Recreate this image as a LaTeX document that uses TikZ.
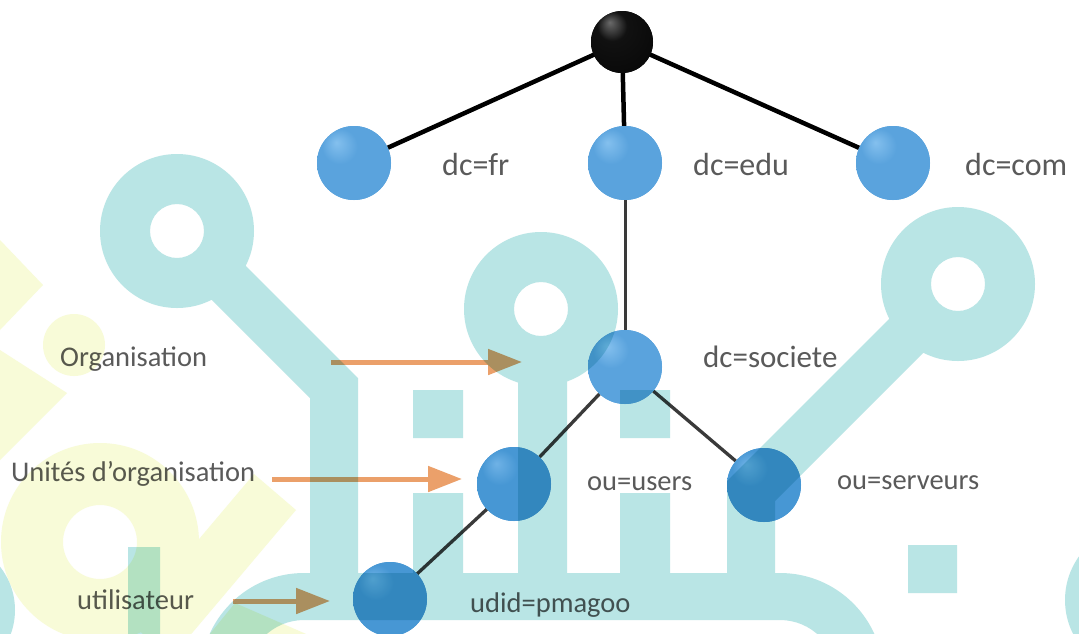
\documentclass[tikz,border=0pt]{standalone}
\usepackage{fontspec}
\setmainfont{Carlito}
\usetikzlibrary{arrows.meta}
\definecolor{teal1}{HTML}{B9E5E5}
\definecolor{yel1}{HTML}{F8FBD8}
\definecolor{txtgray}{HTML}{5A5A5A}
\definecolor{edgegray}{HTML}{3A3A3A}
\definecolor{arrorange}{HTML}{EBA06A}
\definecolor{ballA}{HTML}{84C0EE}
\definecolor{ballB}{HTML}{5AA3DD}
\definecolor{ballC}{HTML}{4A92CF}
\definecolor{ballD}{HTML}{2F72AE}
\definecolor{dballA}{HTML}{6FB2E6}
\definecolor{dballB}{HTML}{4797D4}
\definecolor{dballC}{HTML}{3A85C4}
\definecolor{dballD}{HTML}{25649E}
\definecolor{kA}{HTML}{6A6A6A}
\definecolor{kB}{HTML}{111111}
\pgfdeclareradialshading{bluesphere}{\pgfpoint{-12bp}{14bp}}{color(0bp)=(ballA); color(12bp)=(ballB); color(38bp)=(ballB); color(50bp)=(ballC); color(62bp)=(ballD)}
\pgfdeclareradialshading{darksphere}{\pgfpoint{-12bp}{14bp}}{color(0bp)=(dballA); color(12bp)=(dballB); color(38bp)=(dballB); color(50bp)=(dballC); color(62bp)=(dballD)}
\pgfdeclareradialshading{blacksphere}{\pgfpoint{-10bp}{16bp}}{color(0bp)=(kA); color(12bp)=(kB); color(60bp)=(black)}
\begin{document}
\begin{tikzpicture}[x=1pt,y=-1pt,
  ball/.style={circle, minimum size=74pt, inner sep=0pt, shading=bluesphere},
  lowball/.style={circle, minimum size=74pt, inner sep=0pt, shading=darksphere},
  rootball/.style={circle, minimum size=62pt, inner sep=0pt, shading=blacksphere},
  toplink/.style={line width=4.5pt, draw=black},
  sublink/.style={line width=3.3pt, draw=edgegray},
  lbltop/.style={anchor=base west, inner sep=0pt, text=txtgray, font=\fontsize{32}{38}\selectfont},
  lblmid/.style={anchor=base west, inner sep=0pt, text=txtgray, font=\fontsize{31}{37}\selectfont},
  lbl/.style={anchor=base west, inner sep=0pt, text=txtgray, font=\fontsize{28.5}{34}\selectfont},
  pointer/.style={line width=5pt, draw=arrorange, -{Triangle[length=34pt,width=25pt,color=arrorange]}},
  wm/.style={blend mode=multiply},
]
\useasboundingbox (0,0) rectangle (1079,633);
\fill[white] (0,0) rectangle (1079,633);

% node positions
\node[rootball] (root) at (622,42) {};
\node[ball] (fr) at (354,163) {};
\node[ball] (edu) at (625,163) {};
\node[ball] (com) at (893,163) {};
\node[ball] (soc) at (625,367) {};
\node[lowball] (users) at (514,484) {};
\node[lowball] (serv) at (764,485) {};
\node[lowball] (udid) at (390,599) {};

% links
\draw[toplink] (root.center) -- (fr);
\draw[toplink] (root) -- (edu);
\draw[toplink] (root.center) -- (com);
\draw[sublink, line width=3pt] (edu) -- (soc);
\draw[sublink] (soc) -- (users);
\draw[sublink] (soc) -- (serv);
\draw[sublink] (users) -- (udid);
% balls drawn again above the links
\node[rootball] at (root) {};
\node[ball] at (fr) {};
\node[ball] at (edu) {};
\node[ball] at (com) {};
\node[ball] at (soc) {};
\node[lowball] at (users) {};
\node[lowball] at (serv) {};
\node[lowball] at (udid) {};

% labels
\node[lbltop] (lfr) at (442,175) {dc=fr};
\node[lbltop] (ledu) at (693,175) {dc=edu};
\node[lbltop] (lcom) at (965,175) {dc=com};
\node[lblmid] (lsoc) at (703,367) {dc=societe};
\node[lbl] (lusers) at (587,490) {ou=users};
\node[lbl] (lserv) at (837,489) {ou=serveurs};
\node[lbl] (ludid) at (470,612) {udid=pmagoo};
\node[lbl] (lorg) at (60,366) {Organisation};
\node[lbl] (luni) at (11,481) {Unités d’organisation};
\node[lbl] (luti) at (77,609) {utilisateur};

% pointers
\coordinate (orgS) at (331,362);
\coordinate (orgT) at (522,362);
\coordinate (uniS) at (272,479);
\coordinate (uniT) at (462,479);
\coordinate (utiS) at (233,601);
\coordinate (utiT) at (330,601);
\draw[pointer] (orgS) -- (orgT);
\draw[pointer] (uniS) -- (uniT);
\draw[pointer] (utiS) -- (utiT);

% watermark, multiplied over the diagram
\begin{scope}
  \clip (0,0) rectangle (1079,633);
  \fill[teal1, wm]
    % left pin
    (254,231) arc[start angle=0,end angle=360,radius=77]
    (204,231) arc[start angle=0,end angle=-360,radius=27]
    (185,273) -- (219,239) -- (358,378) -- (358,600) -- (310,600) -- (310,398) -- cycle
    % middle pin
    (618,309) arc[start angle=0,end angle=360,radius=77]
    (568,309) arc[start angle=0,end angle=-360,radius=27]
    (518,345) -- (567,345) -- (567,600) -- (518,600) -- cycle
    % right pin
    (1035,284) arc[start angle=0,end angle=360,radius=77]
    (985,284) arc[start angle=0,end angle=-360,radius=27]
    (916,292) -- (950,326) -- (775,501) -- (775,600) -- (727,600) -- (727,481) -- cycle
    % base
    (304,573) -- (780,573) arc[start angle=-90,end angle=0,radius=103.5]
      -- (836.5,676.5) arc[start angle=0,end angle=-90,radius=56.5]
      -- (304,620) arc[start angle=-90,end angle=-180,radius=56.5]
      -- (200.5,676.5) arc[start angle=-180,end angle=-90,radius=103.5] -- cycle
    % windows and columns
    (413,390) -- (463,390) -- (463,438) -- (413,438) -- cycle
    (620,390) -- (670,390) -- (670,438) -- (620,438) -- cycle
    (413,493) -- (463,493) -- (463,600) -- (413,600) -- cycle
    (620,493) -- (670,493) -- (670,600) -- (620,600) -- cycle
    % dot
    (908,545) -- (957,545) -- (957,593) -- (908,593) -- cycle
    % left pieces
    (128,547) -- (160,547) -- (160,640) -- (128,640) -- cycle
    (15,610) arc[start angle=0,end angle=360,radius=70]
    % right edge
    (1215,600) arc[start angle=0,end angle=360,radius=75];
  \fill[yel1, wm]
    (0,240) -- (43,285) -- (0,330) -- cycle
    (0,350) -- (67,393) -- (0,460) -- cycle
    (105,345) arc[start angle=0,end angle=360,radius=31]
    (199,542) arc[start angle=0,end angle=360,radius=99]
    (137,542) arc[start angle=0,end angle=-360,radius=37]
    (254,474) -- (296,510) -- (171,658) -- (129,622) -- cycle
    (235,603) -- (320,640) -- (205,640) -- cycle;
\end{scope}
\end{tikzpicture}
\end{document}
